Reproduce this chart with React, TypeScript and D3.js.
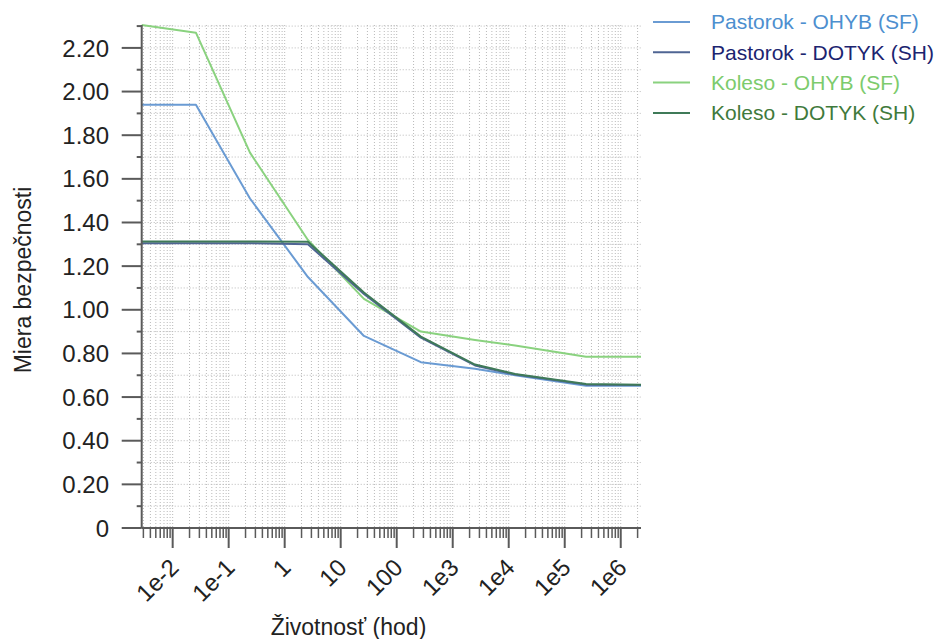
import React from "react";
import * as d3 from "d3";

const lifetimes = [0.0028, 0.026, 0.24, 2.6, 26, 270, 2500, 13000, 240000, 2300000];
const pastorokOhyb = [1.94, 1.94, 1.51, 1.15, 0.88, 0.76, 0.73, 0.7, 0.652, 0.652];
const pastorokDotyk = [1.305, 1.305, 1.305, 1.3, 1.072, 0.872, 0.745, 0.703, 0.657, 0.655];
const kolesoOhyb = [2.305, 2.27, 1.72, 1.32, 1.05, 0.9, 0.862, 0.836, 0.785, 0.785];
const kolesoDotyk = [1.313, 1.313, 1.313, 1.312, 1.079, 0.877, 0.749, 0.706, 0.66, 0.656];

const seriesNames = ["Pastorok - OHYB (SF)", "Pastorok - DOTYK (SH)", "Koleso - OHYB (SF)", "Koleso - DOTYK (SH)"];
const seriesValues = [pastorokOhyb, pastorokDotyk, kolesoOhyb, kolesoDotyk];
const lineColors = ["#6a9bd3", "#4f6593", "#8ad27f", "#3f7a58"];
const textColors = ["#4d8fcf", "#1c2470", "#7ccb6c", "#3f7a3c"];
const drawOrder = [0, 2, 1, 3];

const xMajorTicks = [1e-2, 1e-1, 1, 10, 100, 1e3, 1e4, 1e5, 1e6];
const xTickLabels = ["1e-2", "1e-1", "1", "10", "100", "1e3", "1e4", "1e5", "1e6"];
const yTicks = [0, 0.2, 0.4, 0.6, 0.8, 1.0, 1.2, 1.4, 1.6, 1.8, 2.0, 2.2];
const yTickLabels = ["0", "0.20", "0.40", "0.60", "0.80", "1.00", "1.20", "1.40", "1.60", "1.80", "2.00", "2.20"];

const W = 941;
const H = 639;
const left = 141.7;
const right = 641;
const top = 25;
const bottom = 528;
const font = "'Liberation Sans', Arial, Helvetica, sans-serif";

export default function App() {
  const x = d3.scaleLog().domain([0.0028, 2300000]).range([left, right]);
  const y = d3.scaleLinear().domain([0, 2.305]).range([bottom, top]);

  const minor: number[] = [];
  for (let k = -3; k <= 6; k++) {
    for (let m = 2; m <= 9; m++) {
      const v = m * Math.pow(10, k);
      if (v >= 0.0028 && v <= 2300000) minor.push(v);
    }
  }
  const yGrid: number[] = d3.range(1, 24).map((i) => i / 10);
  const yMinor: number[] = d3.range(0, 12).map((i) => 0.1 + i * 0.2);

  const line = d3
    .line<number>()
    .x((_, i) => x(lifetimes[i]))
    .y((d) => y(d));

  return (
    <svg width={W} height={H} style={{ position: "absolute", left: 0, top: 0, background: "#fff" }} fontFamily={font}>
      <rect x={0} y={0} width={W} height={H} fill="#fff" />
      {/* grid */}
      <g stroke="#b9b9b9" strokeWidth={1} strokeDasharray="1 2">
        {[...minor, ...xMajorTicks].map((v, i) => (
          <line key={"vg" + i} x1={x(v)} x2={x(v)} y1={top} y2={bottom} />
        ))}
        {yGrid.map((v, i) => (
          <line key={"hg" + i} x1={left} x2={right} y1={y(v)} y2={y(v)} />
        ))}
      </g>
      {/* series */}
      <g fill="none" strokeWidth={2} strokeLinejoin="round">
        {drawOrder.map((s) => (
          <path key={"s" + s} d={line(seriesValues[s]) || ""} stroke={lineColors[s]} />
        ))}
      </g>
      {/* axes */}
      <g stroke="#5a5a5a" strokeWidth={2}>
        <line x1={left} x2={left} y1={top} y2={bottom} />
        <line x1={left} x2={right} y1={bottom} y2={bottom} />
        {yTicks.map((v, i) => (
          <line key={"yt" + i} x1={left - 20} x2={left} y1={y(v)} y2={y(v)} />
        ))}
        {yMinor.map((v, i) => (
          <line key={"ym" + i} x1={left - 5} x2={left} y1={y(v)} y2={y(v)} />
        ))}
        {xMajorTicks.map((v, i) => (
          <line key={"xt" + i} x1={x(v)} x2={x(v)} y1={bottom} y2={bottom + 20} />
        ))}
        {minor.map((v, i) => (
          <line key={"xm" + i} x1={x(v)} x2={x(v)} y1={bottom} y2={bottom + 10} strokeWidth={1.5} />
        ))}
      </g>
      <g fill="#222" fontSize={24}>
        {yTicks.map((v, i) => (
          <text key={"yl" + i} x={109} y={y(v)} dy="0.36em" textAnchor="end">
            {yTickLabels[i]}
          </text>
        ))}
        {xMajorTicks.map((v, i) => (
          <text
            key={"xl" + i}
            transform={`translate(${x(v) + 7.5},569) rotate(-45)`}
            textAnchor="end"
          >
            {xTickLabels[i]}
          </text>
        ))}
      </g>
      <text x={348.5} y={635} textAnchor="middle" fontSize={23} fill="#222">
        Životnosť (hod)
      </text>
      <text transform="translate(31,280) rotate(-90)" textAnchor="middle" fontSize={23} fill="#222">
        Miera bezpečnosti
      </text>
      {/* legend */}
      <g>
        {seriesNames.map((n, i) => (
          <g key={"lg" + i}>
            <line x1={653} x2={690} y1={22 + i * 30.3} y2={22 + i * 30.3} stroke={lineColors[i]} strokeWidth={2} />
            <text x={711} y={22 + i * 30.3} dy="0.35em" fontSize={21} fill={textColors[i]}>
              {n}
            </text>
          </g>
        ))}
      </g>
    </svg>
  );
}
